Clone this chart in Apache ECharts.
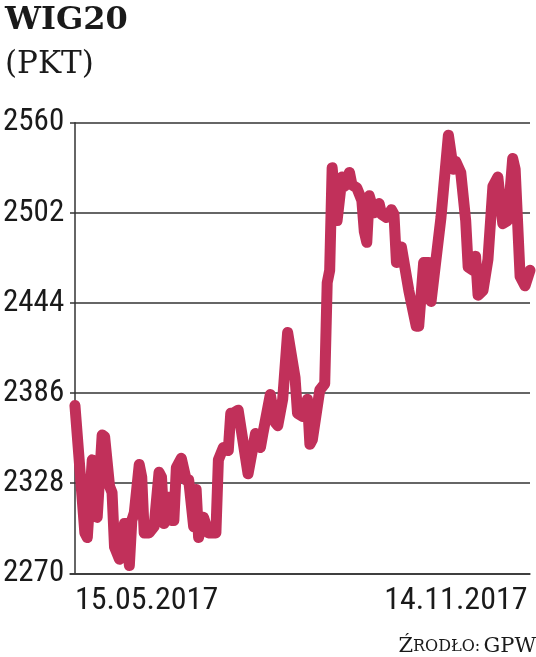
<!DOCTYPE html>
<html>
<head>
<meta charset="utf-8">
<script src="https://cdn.jsdelivr.net/npm/echarts@6/dist/echarts.min.js"></script>
<style>html,body{margin:0;padding:0;background:#fff}#c{width:536px;height:657px}</style>
</head>
<body>
<div id="c"></div>
<script>
// Calendar days since 15.05.2017
const days = [0,4,5,7,8,9,11,12,14,15,16,18,20,21,22,23,24,26,27,28,30,32,34,35,36,37,38,39,40,41,43,45,46,48,49,50,52,54,57,58,60,62,63,64,66,70,73,75,76,79,81,82,84,86,89,90,92,94,95,96,99,101,102,103,104,106,108,109,111,112,114,116,117,118,119,121,123,124,126,128,129,130,132,135,138,139,141,143,144,146,148,151,153,154,156,158,159,161,162,163,165,167,169,171,173,175,177,178,180,182,184];
const values = [2378,2296,2293,2343,2309,2306,2359,2358,2326,2322,2287,2279,2302,2302,2275,2304,2309,2340,2332,2296,2296,2300,2335,2332,2302,2319,2319,2304,2304,2338,2344,2330,2330,2300,2324,2293,2306,2296,2296,2343,2351,2349,2373,2373,2375,2334,2360,2351,2360,2385,2367,2365,2382,2425,2396,2373,2371,2382,2353,2356,2388,2392,2457,2465,2531,2497,2525,2519,2528,2520,2518,2510,2490,2483,2513,2502,2508,2501,2499,2504,2501,2470,2480,2452,2429,2429,2470,2470,2445,2472,2499,2552,2530,2535,2528,2497,2467,2465,2474,2449,2452,2472,2519,2525,2495,2497,2537,2530,2461,2455,2465];
const xTickDays = [0, 183];
const xTickLabels = ['15.05.2017', '14.11.2017'];
const yTicks = [2270, 2328, 2386, 2444, 2502, 2560];

const chart = echarts.init(document.getElementById('c'), null, {renderer: 'canvas'});
const narrow = "'Liberation Sans Narrow', 'Roboto Condensed', 'DejaVu Sans Condensed', sans-serif";
chart.setOption({
  animation: false,
  backgroundColor: '#ffffff',
  title: {
    text: 'WIG20',
    subtext: '(PKT)',
    left: 0,
    top: 0,
    itemGap: 12,
    textStyle: {fontFamily: "'DejaVu Serif', serif", fontWeight: 'bold', fontSize: 32, color: '#1a1a1a'},
    subtextStyle: {fontFamily: "'DejaVu Serif', serif", fontSize: 31, color: '#1a1a1a'}
  },
  grid: {left: 67, right: 6, top: 122.7, bottom: 83.7},
  xAxis: {
    type: 'value',
    min: -2,
    max: 184,
    splitLine: {show: false},
    axisTick: {show: false},
    axisLine: {show: true, lineStyle: {color: '#333', width: 1.5}},
    axisLabel: {
      customValues: xTickDays,
      formatter: v => xTickLabels[xTickDays.indexOf(v)] || '',
      alignMinLabel: 'left',
      alignMaxLabel: 'right',
      fontFamily: narrow,
      fontSize: 32,
      color: '#1a1a1a',
      margin: 12
    }
  },
  yAxis: {
    type: 'value',
    min: yTicks[0],
    max: yTicks[yTicks.length - 1],
    interval: yTicks[1] - yTicks[0],
    axisLine: {show: true, lineStyle: {color: '#333', width: 1.5}},
    axisTick: {show: false},
    splitLine: {show: true, lineStyle: {color: '#333', width: 1.5}},
    axisLabel: {
      align: 'left',
      margin: 67,
      formatter: v => String(v),
      fontFamily: narrow,
      fontSize: 31,
      color: '#1a1a1a',
      padding: [0, 0, 6, 0]
    }
  },
  series: [{
    type: 'line',
    data: days.map((d, i) => [d, values[i]]),
    symbol: 'none',
    clip: false,
    lineStyle: {color: '#C1305A', width: 11, join: 'round', cap: 'round'}
  }],
  graphic: [{
    type: 'text',
    right: 0,
    bottom: 0,
    style: {
      text: '{a|Ź}{b|RODŁO:} {a|GPW}',
      rich: {
        a: {fontFamily: "'DejaVu Serif', serif", fontSize: 21, fill: '#1a1a1a'},
        b: {fontFamily: "'DejaVu Serif', serif", fontSize: 16, fill: '#1a1a1a'}
      }
    }
  }]
});
</script>
</body>
</html>
